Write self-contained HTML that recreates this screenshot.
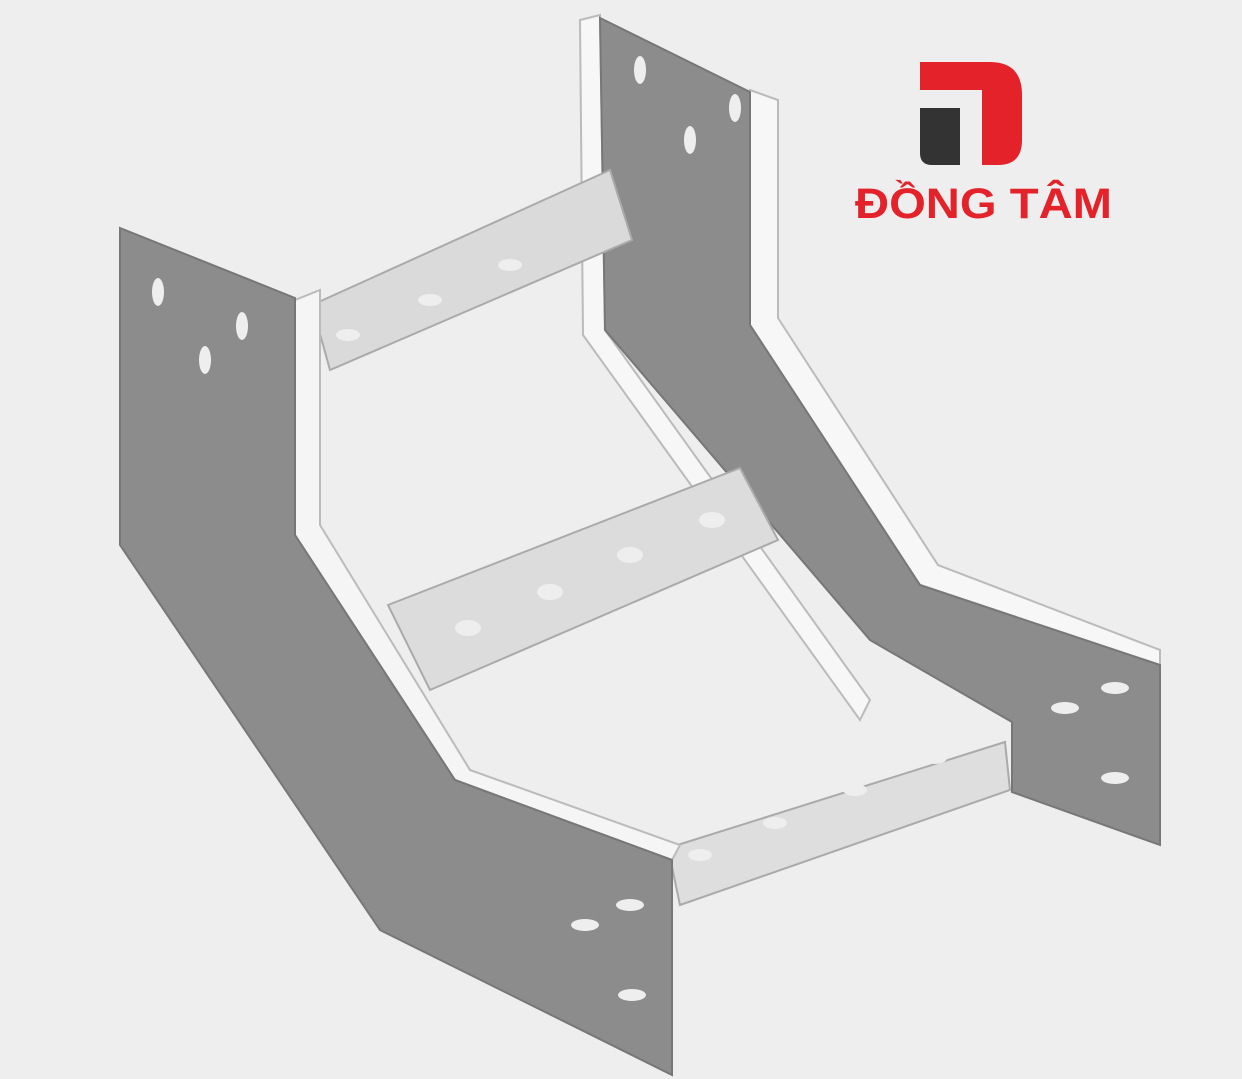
<!DOCTYPE html>
<html><head><style>html,body{margin:0;padding:0;background:#eeeeee}svg{display:block}</style></head>
<body>
<svg width="1242" height="1079" viewBox="0 0 1242 1079" xmlns="http://www.w3.org/2000/svg">
<rect width="1242" height="1079" fill="#eeeeee"/>
<polygon points="580,20 600,15 605,330 870,700 860,720 583,335" fill="#f7f7f7" stroke="#bbb" stroke-width="2"/>
<polygon points="750,90 778,100 778,318 938,565 1160,650 1160,665 920,585 750,325" fill="#f7f7f7" stroke="#bbb" stroke-width="2"/>
<polygon points="600,18 750,92 750,325 920,585 1160,665 1160,845 1012,792 1012,722 870,640 605,330" fill="#8c8c8c" stroke="#777" stroke-width="2"/>
<polygon points="312,305 610,170 632,240 330,370" fill="#dadada" stroke="#aaa" stroke-width="2"/>
<polygon points="388,605 740,468 778,540 430,690" fill="#dcdcdc" stroke="#aaa" stroke-width="2"/>
<polygon points="668,848 1005,742 1010,790 680,905" fill="#dedede" stroke="#aaa" stroke-width="2"/>
<polygon points="295,300 320,290 320,525 470,770 680,845 672,860 455,780 295,535" fill="#f5f5f5" stroke="#bbb" stroke-width="2"/>
<polygon points="120,228 295,298 295,535 455,780 672,860 672,1075 380,930 120,545" fill="#8c8c8c" stroke="#777" stroke-width="2"/>
<g fill="#eee">
<ellipse cx="158" cy="292" rx="6" ry="14"/><ellipse cx="242" cy="326" rx="6" ry="14"/><ellipse cx="205" cy="360" rx="6" ry="14"/>
<ellipse cx="640" cy="70" rx="6" ry="14"/><ellipse cx="735" cy="108" rx="6" ry="14"/><ellipse cx="690" cy="140" rx="6" ry="14"/>
<ellipse cx="585" cy="925" rx="14" ry="6"/><ellipse cx="630" cy="905" rx="14" ry="6"/><ellipse cx="632" cy="995" rx="14" ry="6"/>
<ellipse cx="1065" cy="708" rx="14" ry="6"/><ellipse cx="1115" cy="688" rx="14" ry="6"/><ellipse cx="1115" cy="778" rx="14" ry="6"/>
<ellipse cx="348" cy="335" rx="12" ry="6"/><ellipse cx="430" cy="300" rx="12" ry="6"/><ellipse cx="510" cy="265" rx="12" ry="6"/>
<ellipse cx="468" cy="628" rx="13" ry="8"/><ellipse cx="550" cy="592" rx="13" ry="8"/><ellipse cx="630" cy="555" rx="13" ry="8"/><ellipse cx="712" cy="520" rx="13" ry="8"/>
<ellipse cx="700" cy="855" rx="12" ry="6"/><ellipse cx="775" cy="823" rx="12" ry="6"/><ellipse cx="855" cy="790" rx="12" ry="6"/><ellipse cx="935" cy="758" rx="12" ry="6"/>
</g>
<path d="M920,62 H990 Q1022,62 1022,95 V140 Q1022,165 998,165 H982 V90 H920 Z" fill="#e3222a"/>
<path d="M920,108 H960 V165 H932 Q920,165 920,153 Z" fill="#333"/>
<text x="855" y="218" font-family="Liberation Sans, sans-serif" font-weight="bold" font-size="43" textLength="257" lengthAdjust="spacingAndGlyphs" fill="#e3222a">ĐỒNG TÂM</text>
</svg>
</body></html>
